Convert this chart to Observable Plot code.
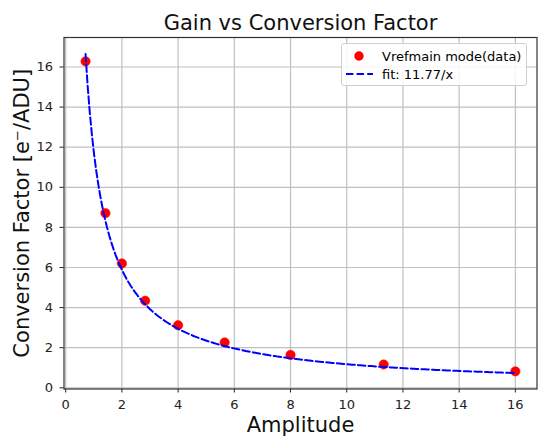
<!DOCTYPE html>
<html>
<head>
<meta charset="utf-8">
<script src="https://cdn.jsdelivr.net/npm/d3@7"></script>
<script src="https://cdn.jsdelivr.net/npm/@observablehq/plot@0.6"></script>
<style>
  html, body { margin: 0; padding: 0; background: #fff; }
  #chart { position: relative; width: 538px; height: 436px; font-family: "DejaVu Sans", sans-serif; }
  #legend {
    position: absolute; left: 341px; top: 43px; width: 186px; height: 43px;
    border: 1px solid #d0d0d0; border-radius: 3px; background: rgba(255,255,255,0.85);
    font: 13px "DejaVu Sans", sans-serif; color: #000; box-sizing: border-box;
  }
  #legend .row { position: absolute; left: 0; height: 18px; display: flex; align-items: center; }
  #legend svg { display: block; }
</style>
</head>
<body>
<div id="chart"></div>
<script>
// Measured conversion factor at each amplitude setting (Vrefmain mode)
const amplitude = [0.707, 1.414, 2, 2.828, 4, 5.657, 8, 11.314, 16];
const convFactor = [16.28, 8.71, 6.2, 4.34, 3.12, 2.26, 1.64, 1.16, 0.82];

// Fit result: conversion factor = k / amplitude
const fitCoef = 11.77;
const fitLabel = "fit: 11.77/x";
const dataLabel = "Vrefmain mode(data)";

const xTicks = [0, 2, 4, 6, 8, 10, 12, 14, 16];
const yTicks = [0, 2, 4, 6, 8, 10, 12, 14, 16];

const points = amplitude.map((a, i) => ({x: a, y: convFactor[i]}));
const [xMin, xMax] = d3.extent(amplitude);
const fitCurve = d3.range(0, 201).map(i => {
  const x = xMin + (xMax - xMin) * i / 200;
  return {x, y: fitCoef / x};
});

const font = "DejaVu Sans, sans-serif";

const plot = Plot.plot({
  width: 538,
  height: 436,
  marginTop: 37,
  marginBottom: 47.5,
  marginLeft: 63.5,
  marginRight: 1.5,
  style: {fontFamily: font, background: "#fff", color: "#000"},
  x: {domain: [-0.06, 16.77], ticks: xTicks},
  y: {domain: [-0.06, 17.47], ticks: yTicks},
  marks: [
    Plot.gridX(xTicks, {stroke: "#c0c0c0", strokeOpacity: 1, strokeWidth: 1.2}),
    Plot.gridY(yTicks, {stroke: "#c0c0c0", strokeOpacity: 1, strokeWidth: 1.2}),
    Plot.axisX(xTicks, {tickSize: 4, tickPadding: 7, fontSize: 13, label: null, stroke: "#222", fill: "#222"}),
    Plot.axisY(yTicks, {tickSize: 4, tickPadding: 7, fontSize: 13, label: null, stroke: "#222", fill: "#222"}),
    Plot.dot(points, {x: "x", y: "y", r: 4.7, fill: "red", stroke: "red", strokeWidth: 0.5}),
    Plot.line(fitCurve, {x: "x", y: "y", stroke: "#0000ff", strokeWidth: 2, strokeDasharray: "7.4,3.2"}),
    Plot.frame({stroke: "#333", strokeWidth: 1.2}),
    Plot.text(["Gain vs Conversion Factor"], {
      frameAnchor: "top", dy: -14.4, fontSize: 21, fill: "#111",
      textAnchor: "middle", lineAnchor: "middle"
    }),
    Plot.text(["Amplitude"], {
      frameAnchor: "bottom", dy: 36.3, fontSize: 21, fill: "#111",
      textAnchor: "middle", lineAnchor: "middle"
    }),
    Plot.text(["Conversion Factor [e\u207B/ADU]"], {
      frameAnchor: "left", dx: -41.5, rotate: -90, fontSize: 21, fill: "#111",
      textAnchor: "middle", lineAnchor: "middle"
    })
  ]
});

const chart = document.getElementById("chart");
chart.appendChild(plot);

// Legend box in the upper right of the axes
const legend = document.createElement("div");
legend.id = "legend";
legend.innerHTML = `
  <div class="row" style="top:3px">
    <svg width="40" height="18"><circle cx="17" cy="9" r="4.7" fill="red"/></svg>
    <span>${dataLabel}</span>
  </div>
  <div class="row" style="top:21px">
    <svg width="40" height="18"><line x1="4" x2="31" y1="9" y2="9" stroke="#0000ff" stroke-width="2" stroke-dasharray="7.4,3.2"/></svg>
    <span>${fitLabel}</span>
  </div>`;
chart.appendChild(legend);
</script>
</body>
</html>
